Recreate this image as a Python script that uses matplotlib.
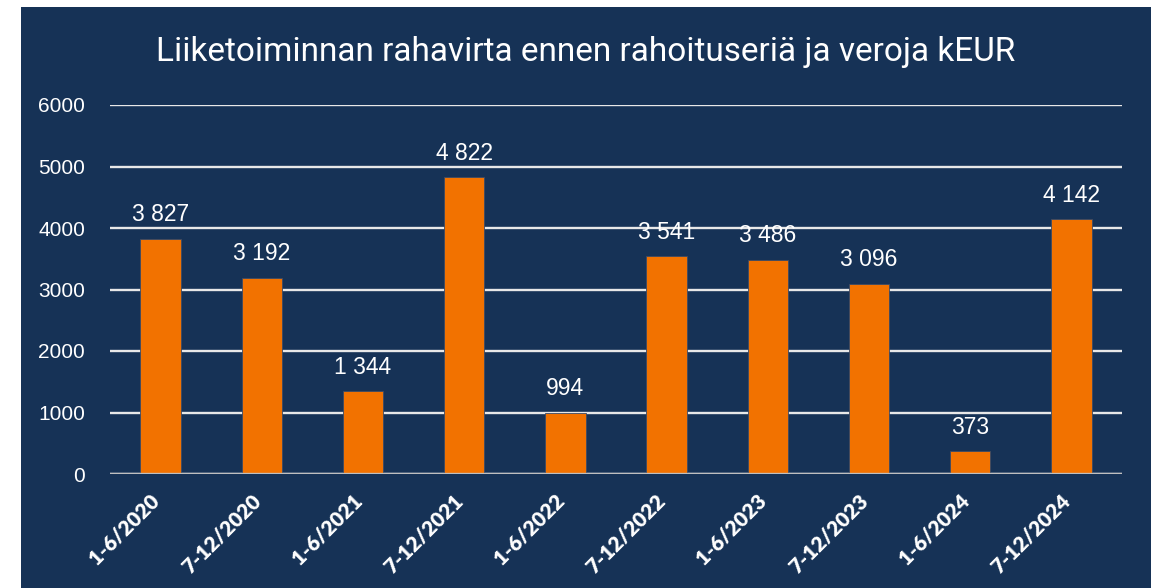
import matplotlib.pyplot as plt
from matplotlib.patches import Rectangle
from matplotlib.transforms import ScaledTranslation

periods = ["1-6/2020", "7-12/2020", "1-6/2021", "7-12/2021", "1-6/2022",
           "7-12/2022", "1-6/2023", "7-12/2023", "1-6/2024", "7-12/2024"]
cash_flow = [3827, 3192, 1344, 4822, 994, 3541, 3486, 3096, 373, 4142]
y_ticks = [0, 1000, 2000, 3000, 4000, 5000, 6000]

navy = "#163256"
orange = "#F27200"

fig = plt.figure(figsize=(11.58, 5.88), dpi=100)
fig.patch.set_facecolor("white")
fig.patches.append(Rectangle((21 / 1158, 0), (1151 - 21) / 1158, 1 - 7 / 588,
                             transform=fig.transFigure, facecolor=navy,
                             edgecolor="none", zorder=-5))

ax = fig.add_axes([110 / 1158, 1 - 474 / 588, (1122 - 110) / 1158, (474 - 105) / 588])
ax.set_facecolor("none")

x = range(len(periods))
bars = ax.bar(x, cash_flow, width=0.4, color=orange, edgecolor="#3a4a66",
              linewidth=0.6, zorder=3)

for b, v in zip(bars, cash_flow):
    lbl = f"{v:,}".replace(",", " ")
    ax.annotate(lbl, (b.get_x() + b.get_width() / 2, v), xytext=(0, 9),
                textcoords="offset points", ha="center", va="bottom",
                color="white", fontsize=16.5, family="Liberation Sans")

ax.set_xlim(-0.5, len(periods) - 0.5)
ax.set_ylim(0, 6000)
ax.set_yticks(y_ticks)
ax.set_yticklabels([str(t) for t in y_ticks], family="Liberation Sans",
                   fontsize=15, color="white")
ax.grid(axis="y", color="#E8E8E8", linewidth=1.7, zorder=1)
ax.axhline(0, color="#BFBFBF", linewidth=2.4, zorder=4)
ax.tick_params(axis="both", length=0)
ax.tick_params(axis="y", pad=18)
ax.set_xticks(list(x))
ax.set_xticklabels(periods, rotation=45, ha="right", va="top",
                   rotation_mode="anchor", fontsize=15, fontweight="heavy",
                   family="Lato", color="white")
ax.tick_params(axis="x", pad=14)
shift = ScaledTranslation(-8 / 72, 2 / 72, fig.dpi_scale_trans)
for t in ax.get_xticklabels():
    t.set_transform(t.get_transform() + shift)
for s in ax.spines.values():
    s.set_visible(False)

fig.text(586 / 1158, 1 - 52 / 588,
         "Liiketoiminnan rahavirta ennen rahoituseriä ja veroja kEUR",
         ha="center", va="center", color="white", fontsize=24, family="Roboto")

fig.savefig("out.png", dpi=100, facecolor=fig.get_facecolor())
